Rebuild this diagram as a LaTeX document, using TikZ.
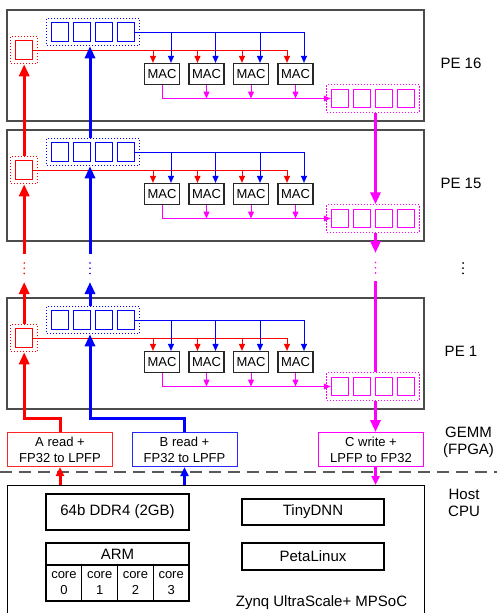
\documentclass[tikz,border=0pt]{standalone}
\usepackage{fontspec}
\setmainfont{Liberation Sans}
\usetikzlibrary{arrows.meta, positioning, calc, fit}
\definecolor{ared}{RGB}{255,0,0}
\definecolor{bblue}{RGB}{0,0,255}
\definecolor{cmag}{RGB}{255,0,255}

\begin{document}
\begin{tikzpicture}[
    x=1pt, y=-1pt,                                              % pixel-like grid
    font=\fontsize{15}{17}\selectfont,
    pebox/.style={draw=black!70, line width=1.4pt, minimum width=417pt, minimum height=111pt, inner sep=0pt},
    sq/.style={draw, line width=1pt, minimum width=17.5pt, minimum height=18.5pt, inner sep=0pt},  % register cell
    regfit/.style={draw, line width=1pt, dash pattern=on 1.5pt off 1.5pt, inner sep=4pt},          % dotted register frame
    mac/.style={draw=black!85, line width=1.2pt, minimum width=35pt, minimum height=21pt, inner sep=0pt, font=\fontsize{13}{15}\selectfont},
    wire/.style={line width=1pt, -{Triangle[length=7pt, width=6pt]}},      % thin arrows inside a PE
    bus/.style={line width=3pt, -{Triangle[length=12pt, width=10pt]}},     % thick data paths
    shortbus/.style={line width=3pt, -{Triangle[length=9pt, width=8pt]}},
    iobox/.style={draw, line width=1pt, minimum width=105pt, minimum height=34pt, align=center, inner sep=0pt, font=\fontsize{13}{16}\selectfont},
    hostbox/.style={draw, line width=1.1pt, inner sep=0pt},
    ellip/.style={line width=1.8pt, line cap=round, dash pattern=on 0pt off 5.2pt}
]
\useasboundingbox (0,0) rectangle (497,613);

% --- PROCESSING ELEMENTS ---
\foreach \t/\n in {10/16, 130/15, 298/1} {
    \node[pebox] (pe\n) at (215.5,\t+55.5) {};
    \node (pelabel\n) at (461,\t+53) {PE \n};

    % A register (red), B register (blue), C register (magenta)
    \node[sq, draw=ared] (ra\n) at (24.2,\t+40) {};
    \node[regfit, draw=ared, fit=(ra\n)] (rafit\n) {};
    \foreach \k in {1,...,4}
        \node[sq, draw=bblue] (rb\n-\k) at (38+22*\k,\t+22) {};
    \node[regfit, draw=bblue, fit=(rb\n-1)(rb\n-4)] (rbfit\n) {};
    \foreach \k in {1,...,4}
        \node[sq, draw=cmag] (rc\n-\k) at (318+22*\k,\t+88.5) {};
    \node[regfit, draw=cmag, fit=(rc\n-1)(rc\n-4)] (rcfit\n) {};

    % MAC units
    \foreach \k in {1,...,4}
        \node[mac] (mac\n-\k) at (117.5+44.5*\k,\t+64) {MAC};

    % broadcast of A and B to the MACs
    \draw[wire, ared] (ra\n.east) -| ([xshift=-8.5pt]mac\n-4.north);
    \foreach \k in {1,2,3}
        \draw[wire, ared] ([xshift=-9pt]mac\n-\k.north |- ra\n.east) -- ([xshift=-9pt]mac\n-\k.north);
    \draw[wire, bblue] (rb\n-4.east) -| ([xshift=8.5pt]mac\n-4.north);
    \foreach \k in {1,2,3}
        \draw[wire, bblue] ([xshift=9pt]mac\n-\k.north |- rb\n-4.east) -- ([xshift=9pt]mac\n-\k.north);

    % results to C register
    \draw[wire, cmag] (mac\n-1.south) |- (rc\n-1.west);
    \foreach \k in {2,3,4}
        \draw[wire, cmag] (mac\n-\k.south) -- (mac\n-\k.south |- rc\n-1.west);
}

% --- DATA FLOW BETWEEN PEs ---
\draw[bus, ared]  (rafit15.north) -- (rafit16.south);
\draw[bus, bblue] ([xshift=-3pt]rbfit15.north) -- ([xshift=-3pt]rbfit16.south);
\draw[bus, cmag]  ([xshift=2.5pt]rcfit16.south) -- ([xshift=2.5pt]rcfit15.north);

% --- GAP BETWEEN PE 15 AND PE 1 ---
\coordinate (agapup) at (24.2,254);  \coordinate (agapdn) at (24.2,282);
\coordinate (bgapup) at (90,254);    \coordinate (bgapdn) at (90,282);
\coordinate (cgapup) at (375.5,253); \coordinate (cgapdn) at (375.5,281);

\draw[bus, ared]  (rafit1.north) -- (agapdn);
\draw[bus, ared]  (agapup) -- (rafit15.south);
\draw[bus, bblue] ([xshift=-3pt]rbfit1.north) -- (bgapdn);
\draw[bus, bblue] (bgapup) -- ([xshift=-3pt]rbfit15.south);
\draw[bus, cmag]  ([xshift=2.5pt]rcfit15.south) -- (cgapup);
\draw[line width=3pt, cmag] (cgapdn) -- ([xshift=2.5pt]rcfit1.north);

\draw[ellip, ared]  (24.2,263) -- (24.2,273.5);
\draw[ellip, bblue] (90,263) -- (90,273.5);
\draw[ellip, cmag]  (375.5,262.5) -- (375.5,273);
\draw[ellip, line width=2pt, black] (463,263) -- (463,273.5);

% --- GEMM INTERFACE ---
\node[iobox, draw=ared!85]  (aread)  at (60,449.5)    {A read +\\FP32 to LPFP};
\node[iobox, draw=bblue!85] (bread)  at (184.5,449.5) {B read +\\FP32 to LPFP};
\node[iobox, draw=cmag]     (cwrite) at (371,449.5)   {C write +\\LPFP to FP32};

\draw[bus, ared]  (aread.north) -- ++(0,-14) -| (rafit1.south);
\draw[bus, bblue] (bread.north) -- ++(0,-14) -| ([xshift=-3pt]rbfit1.south);
\draw[bus, cmag]  ([xshift=2.5pt]rcfit1.south) -- ([xshift=2.5pt]rcfit1.south |- cwrite.north);

\node[align=center] (gemm) at (468.5,442) {GEMM\\(FPGA)};

% --- FPGA / HOST BORDER ---
\draw[black!65, line width=1.2pt, dash pattern=on 12pt off 7pt] (0,472) -- (497,472);

% --- HOST CPU ---
\node[hostbox, minimum width=417pt, minimum height=140pt, anchor=north west] (host) at (7,485) {};
\node[align=center] (hostcpu) at (464,503) {Host\\CPU};

\draw[shortbus, ared]  (aread.south |- host.north) -- (aread.south);
\draw[shortbus, bblue] (bread.south |- host.north) -- (bread.south);
\draw[shortbus, cmag]  ([xshift=4.5pt]cwrite.south) -- ([xshift=4.5pt]cwrite.south |- host.north);

\node[hostbox, minimum width=143pt, minimum height=36pt] (ddr)       at (117.5,512) {64b DDR4 (2GB)};
\node[hostbox, minimum width=142pt, minimum height=26pt] (tinydnn)   at (313,512)   {TinyDNN};
\node[hostbox, minimum width=142pt, minimum height=27pt] (petalinux) at (313,556.5) {PetaLinux};
\node[hostbox, minimum width=143pt, minimum height=22pt] (arm)       at (117.5,554) {ARM};
\foreach \k in {0,...,3}
    \node[hostbox, minimum width=35.75pt, minimum height=36pt, align=center, font=\fontsize{13}{16}\selectfont]
        (core\k) at (63.9+35.75*\k,583) {core\\\k};

\node (zynq) at (321.5,603) {Zynq UltraScale+ MPSoC};

\end{tikzpicture}
\end{document}
